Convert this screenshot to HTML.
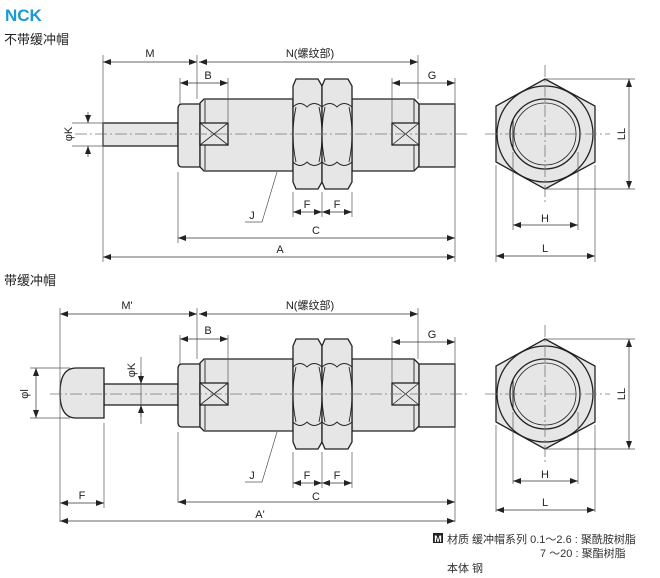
<!DOCTYPE html>
<html><head><meta charset="utf-8">
<style>
body{margin:0;background:#fff;}
svg{display:block;font-family:"Liberation Sans","Noto Sans CJK SC",sans-serif;}
</style></head><body>
<svg width="660" height="578" viewBox="0 0 660 578" xmlns="http://www.w3.org/2000/svg">
<defs>
<marker id="a" viewBox="0 0 8 6" refX="8" refY="3" markerWidth="8" markerHeight="6" orient="auto-start-reverse" markerUnits="userSpaceOnUse"><path d="M0,0L8,3L0,6z" fill="#222"/></marker>
<g id="body" stroke="#222" stroke-width="1.3" fill="#e6e6e6">
  <path d="M182,104H200V167H182Q178,167 178,162V109Q178,104 182,104Z"/>
  <path d="M204,99H293V171H204L200,167V103Z"/>
  <line x1="205" y1="100" x2="205" y2="170" stroke-width="0.9"/>
  <path d="M352,99H414L419,104V166L414,171H352Z"/>
  <line x1="414" y1="100" x2="414" y2="170" stroke-width="0.9"/>
  <rect x="419" y="104" width="36" height="63"/>
  <path d="M296,79H318L322,86V182L318,189H296L293,182V86Z"/>
  <path d="M325,79H348L352,86V182L348,189H325L322,182V86Z"/>
  <path d="M293,107Q300,100 307,107Q314,100 322,107M293,162Q300,169 307,162Q314,169 322,162" fill="none" stroke-width="0.9"/>
  <path d="M322,107Q330,100 337,107Q344,100 352,107M322,162Q330,169 337,162Q344,169 352,162" fill="none" stroke-width="0.9"/>
  <path d="M296,107Q290,134 296,162M319,107Q325,134 319,162M325,107Q319,134 325,162M349,107Q355,134 349,162" fill="none" stroke-width="0.9"/>
  <rect x="200" y="123" width="28" height="22"/>
  <path d="M200,123L228,145M228,123L200,145" stroke-width="0.8"/>
  <rect x="392" y="123" width="27" height="22"/>
  <path d="M392,123L419,145M419,123L392,145" stroke-width="0.8"/>
</g>
<g id="hex" stroke="#222" stroke-width="1.3" fill="#e6e6e6">
  <polygon points="545,79 595,106 595,162 545,189 496,162 496,106"/>
  <circle cx="545" cy="134" r="48" fill="none"/>
  <circle cx="545" cy="134" r="35"/>
  <circle cx="545" cy="134" r="31" fill="none" stroke-width="0.8"/>
  <line x1="513" y1="119" x2="513" y2="150" stroke-width="1"/>
</g>
</defs>

<text x="5" y="21" font-size="17" font-weight="bold" fill="#1a9ad6">NCK</text>
<text x="4" y="44" font-size="13" fill="#222">不带缓冲帽</text>
<text x="4" y="285" font-size="13" fill="#222">带缓冲帽</text>

<!-- TOP -->
<rect x="103" y="123" width="75" height="23" fill="#e6e6e6" stroke="#222" stroke-width="1.3"/>
<use href="#body"/>
<use href="#hex"/>
<g stroke="#777" stroke-width="0.8" stroke-dasharray="12,3,2,3" fill="none">
<line x1="75" y1="134" x2="470" y2="134"/>
<line x1="485" y1="134" x2="610" y2="134"/>
<line x1="545" y1="65" x2="545" y2="205"/>
</g>
<g stroke="#555" stroke-width="0.7" fill="none">
<line x1="103" y1="55" x2="103" y2="262"/>
<line x1="197" y1="55" x2="197" y2="99"/>
<line x1="418" y1="55" x2="418" y2="99"/>
<line x1="180" y1="78" x2="180" y2="104"/>
<line x1="228" y1="78" x2="228" y2="123"/>
<line x1="392" y1="78" x2="392" y2="123"/>
<line x1="455" y1="78" x2="455" y2="262"/>
<line x1="178" y1="172" x2="178" y2="243"/>
<line x1="293" y1="192" x2="293" y2="217"/>
<line x1="322" y1="192" x2="322" y2="217"/>
<line x1="352" y1="192" x2="352" y2="217"/>
<line x1="72" y1="123" x2="103" y2="123"/>
<line x1="72" y1="146" x2="103" y2="146"/>
<line x1="545" y1="79" x2="635" y2="79"/>
<line x1="545" y1="189" x2="635" y2="189"/>
<line x1="513" y1="152" x2="513" y2="230"/>
<line x1="578" y1="152" x2="578" y2="230"/>
<line x1="496" y1="165" x2="496" y2="262"/>
<line x1="595" y1="165" x2="595" y2="262"/>
<polyline points="277,172 262,222 245,222"/>
</g>
<g stroke="#333" stroke-width="0.7" marker-start="url(#a)" marker-end="url(#a)">
<line x1="103" y1="62" x2="197" y2="62"/>
<line x1="199" y1="62" x2="418" y2="62"/>
<line x1="180" y1="83" x2="228" y2="83"/>
<line x1="392" y1="83" x2="455" y2="83"/>
<line x1="293" y1="212" x2="322" y2="212"/>
<line x1="322" y1="212" x2="352" y2="212"/>
<line x1="178" y1="238" x2="455" y2="238"/>
<line x1="103" y1="257" x2="455" y2="257"/>
<line x1="629" y1="79" x2="629" y2="189"/>
<line x1="513" y1="225" x2="578" y2="225"/>
<line x1="496" y1="256" x2="595" y2="256"/>
</g>
<line x1="88" y1="112" x2="88" y2="123" stroke="#333" stroke-width="0.7" marker-end="url(#a)"/>
<line x1="88" y1="157" x2="88" y2="146" stroke="#333" stroke-width="0.7" marker-end="url(#a)"/>
<g font-size="11" fill="#222" text-anchor="middle">
<text x="150" y="57">M</text>
<text x="310" y="57">N(螺纹部)</text>
<text x="208" y="79">B</text>
<text x="432" y="79">G</text>
<text x="307" y="208">F</text>
<text x="337" y="208">F</text>
<text x="316" y="234">C</text>
<text x="280" y="253">A</text>
<text x="252" y="219">J</text>
<text x="545" y="222">H</text>
<text x="545" y="252">L</text>
<text transform="translate(625,134) rotate(-90)">LL</text>
<text transform="translate(72,134) rotate(-90)">φK</text>
</g>

<!-- BOTTOM -->
<rect x="104" y="384" width="74" height="21" fill="#e6e6e6" stroke="#222" stroke-width="1.3"/>
<path d="M104,368V418H76Q60,418 60,393Q60,368 76,368Z" fill="#e6e6e6" stroke="#222" stroke-width="1.3"/>
<use href="#body" transform="translate(0,260)"/>
<use href="#hex" transform="translate(0,260)"/>
<g stroke="#777" stroke-width="0.8" stroke-dasharray="12,3,2,3" fill="none">
<line x1="50" y1="394" x2="470" y2="394"/>
<line x1="485" y1="394" x2="610" y2="394"/>
<line x1="545" y1="325" x2="545" y2="465"/>
</g>
<g stroke="#555" stroke-width="0.7" fill="none">
<line x1="60" y1="308" x2="60" y2="522"/>
<line x1="104" y1="423" x2="104" y2="508"/>
<line x1="197" y1="308" x2="197" y2="359"/>
<line x1="418" y1="308" x2="418" y2="359"/>
<line x1="180" y1="335" x2="180" y2="364"/>
<line x1="228" y1="335" x2="228" y2="383"/>
<line x1="392" y1="337" x2="392" y2="383"/>
<line x1="455" y1="337" x2="455" y2="522"/>
<line x1="178" y1="432" x2="178" y2="503"/>
<line x1="293" y1="452" x2="293" y2="488"/>
<line x1="322" y1="452" x2="322" y2="488"/>
<line x1="352" y1="452" x2="352" y2="488"/>
<line x1="30" y1="368" x2="70" y2="368"/>
<line x1="30" y1="418" x2="70" y2="418"/>
<line x1="141" y1="357" x2="141" y2="424"/>
<line x1="545" y1="339" x2="635" y2="339"/>
<line x1="545" y1="449" x2="635" y2="449"/>
<line x1="513" y1="412" x2="513" y2="484"/>
<line x1="578" y1="412" x2="578" y2="484"/>
<line x1="496" y1="425" x2="496" y2="512"/>
<line x1="595" y1="425" x2="595" y2="512"/>
<polyline points="277,432 262,482 245,482"/>
</g>
<g stroke="#333" stroke-width="0.7" marker-start="url(#a)" marker-end="url(#a)">
<line x1="60" y1="314" x2="197" y2="314"/>
<line x1="199" y1="314" x2="418" y2="314"/>
<line x1="180" y1="339" x2="228" y2="339"/>
<line x1="392" y1="342" x2="455" y2="342"/>
<line x1="293" y1="483" x2="322" y2="483"/>
<line x1="322" y1="483" x2="352" y2="483"/>
<line x1="178" y1="502" x2="455" y2="502"/>
<line x1="60" y1="503" x2="104" y2="503"/>
<line x1="60" y1="521" x2="455" y2="521"/>
<line x1="36" y1="368" x2="36" y2="418"/>
<line x1="629" y1="339" x2="629" y2="449"/>
<line x1="513" y1="481" x2="578" y2="481"/>
<line x1="496" y1="510" x2="595" y2="510"/>
</g>
<line x1="141" y1="372" x2="141" y2="384" stroke="#333" stroke-width="0.7" marker-end="url(#a)"/>
<line x1="141" y1="417" x2="141" y2="405" stroke="#333" stroke-width="0.7" marker-end="url(#a)"/>
<g font-size="11" fill="#222" text-anchor="middle">
<text x="127" y="309">M'</text>
<text x="310" y="309">N(螺纹部)</text>
<text x="208" y="334">B</text>
<text x="432" y="338">G</text>
<text x="307" y="479">F</text>
<text x="337" y="479">F</text>
<text x="316" y="500">C</text>
<text x="82" y="499">F</text>
<text x="260" y="518">A'</text>
<text x="252" y="479">J</text>
<text x="545" y="478">H</text>
<text x="545" y="506">L</text>
<text transform="translate(625,394) rotate(-90)">LL</text>
<text transform="translate(28,394) rotate(-90)">φl</text>
<text transform="translate(135,370) rotate(-90)">φK</text>
</g>

<!-- notes -->
<rect x="433" y="533" width="10" height="10" fill="#222"/>
<text x="438" y="542" font-size="9" font-weight="bold" fill="#fff" text-anchor="middle">M</text>
<g font-size="11" fill="#333">
<text x="447" y="543">材质  缓冲帽系列 0.1～2.6 : 聚酰胺树脂</text>
<text x="540" y="557">7  ～20 : 聚酯树脂</text>
<text x="447" y="572">本体  钢</text>
</g>
</svg>
</body></html>
